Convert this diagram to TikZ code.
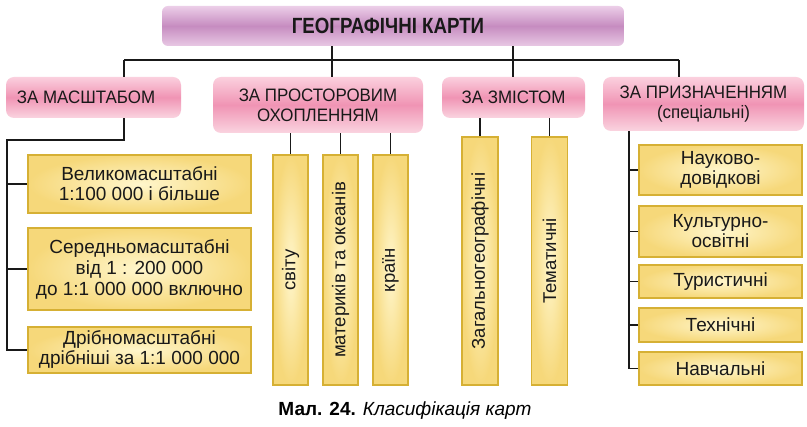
\documentclass[tikz,border=0pt]{standalone}
\usepackage{fontspec}
\setmainfont{Liberation Sans}
\newfontfamily\titlefont[FakeStretch=0.85]{Liberation Sans}
\newfontfamily\catfont[FakeStretch=0.94]{Liberation Sans}
\definecolor{ttop}{RGB}{236,206,232}
\definecolor{tmid}{RGB}{198,140,192}
\definecolor{tbot}{RGB}{232,200,228}
\definecolor{ptop}{RGB}{251,208,222}
\definecolor{pmid}{RGB}{240,148,180}
\definecolor{pbot}{RGB}{250,212,224}
\definecolor{yin}{RGB}{255,246,204}
\definecolor{yout}{RGB}{246,216,122}
\definecolor{ybord}{RGB}{214,176,52}
\definecolor{lin}{RGB}{25,25,25}
\begin{document}
\begin{tikzpicture}[x=1pt,y=-1pt,
  titlebox/.style={rounded corners=6pt, top color=ttop, bottom color=tbot, middle color=tmid, inner sep=0pt,
     font=\titlefont\bfseries\fontsize{22}{24}\selectfont, text=black!90},
  catbox/.style={rounded corners=8pt, top color=ptop, bottom color=pbot, middle color=pmid, inner sep=1pt, align=center,
     font=\catfont\fontsize{18}{20}\selectfont, text=black!90},
  itembox/.style={draw=ybord, line width=1.2pt, inner color=yin, outer color=yout, inner sep=1pt, align=center,
     font=\fontsize{19}{20}\selectfont, text=black!90},
  vbox/.style={itembox, font=\fontsize{18.5}{20}\selectfont},
  conn/.style={draw=lin, line width=1.2pt}]
\useasboundingbox (0,0) rectangle (807,427);
\fill[white] (0,0) rectangle (807,427);

\node[titlebox, minimum width=462pt, minimum height=40pt] (title) at (393,26) {ГЕОГРАФІЧНІ КАРТИ\hspace*{10pt}};

\node[catbox, minimum width=175pt, minimum height=41pt] (zm) at (93.5,97.5) {ЗА МАСШТАБОМ\hspace*{15pt}};
\node[catbox, minimum width=210pt, minimum height=56pt] (zp) at (318,105) {ЗА ПРОСТОРОВИМ\\ОХОПЛЕННЯМ};
\node[catbox, minimum width=143pt, minimum height=41pt] (zz) at (513.5,97.5) {ЗА ЗМІСТОМ};
\node[catbox, minimum width=201pt, minimum height=54pt] (zn) at (703.5,104) {ЗА ПРИЗНАЧЕННЯМ\\(спеціальні)};

\node[itembox, minimum width=223pt, minimum height=58pt] (l1) at (139.5,184) {Великомасштабні\\1:100 000 і більше};
\node[itembox, minimum width=223pt, minimum height=82pt, font=\fontsize{19}{21}\selectfont] (l2) at (139.5,269) {Середньомасштабні\\від 1 : 200 000\\до 1:1 000 000 включно};
\node[itembox, minimum width=223pt, minimum height=46pt] (l3) at (139.5,350) {Дрібномасштабні\\дрібніші за 1:1 000 000};

\node[vbox, minimum width=35pt, minimum height=230pt] (s1) at (290.5,270) {\rotatebox{90}{світу}};
\node[vbox, minimum width=35pt, minimum height=230pt] (s2) at (340.5,270) {\rotatebox{90}{материків та океанів}};
\node[vbox, minimum width=35pt, minimum height=230pt] (s3) at (390.5,270) {\rotatebox{90}{країн}};

\node[vbox, minimum width=36pt, minimum height=248pt] (z1) at (480,261) {\rotatebox{90}{Загальногеографічні}};
\node[vbox, minimum width=36pt, minimum height=248pt] (z2) at (549.5,261) {\rotatebox{90}{Тематичні}};

\node[itembox, minimum width=163pt, minimum height=50pt] (r1) at (720.5,170) {Науково-\\довідкові};
\node[itembox, minimum width=163pt, minimum height=51pt] (r2) at (720.5,231.5) {Культурно-\\освітні};
\node[itembox, minimum width=163pt, minimum height=33pt] (r3) at (720.5,281.5) {Туристичні};
\node[itembox, minimum width=163pt, minimum height=34pt] (r4) at (720.5,325) {Технічні};
\node[itembox, minimum width=163pt, minimum height=33pt] (r5) at (720.5,368.5) {Навчальні};

\node[font=\fontsize{19}{21}\selectfont, inner sep=0pt] (cap) at (405,411) {\textbf{Мал. 24.} \textit{Класифікація карт}};

% top connectors
\coordinate (ja) at (124,60);
\coordinate (jb) at (332,60);
\coordinate (jc) at (513,60);
\coordinate (jd) at (679,60);
\draw[conn] (ja) -- (jd);
\draw[conn] (title.south -| jb) -- (zp.north -| jb);
\draw[conn] (title.south -| jc) -- (zz.north -| jc);
\draw[conn] (ja) -- (zm.north -| ja);
\draw[conn] (jd) -- (zn.north -| jd);

% left branch
\coordinate (ka) at (124,140);
\coordinate (kb) at (7,140);
\draw[conn] (zm.south -| ka) -- (ka) -- (kb) |- (l3.west);
\draw[conn] (kb |- l1.west) -- (l1.west);
\draw[conn] (kb |- l2.west) -- (l2.west);

% middle
\draw[conn] (zp.south -| s1.north) -- (s1.north);
\draw[conn] (zp.south -| s2.north) -- (s2.north);
\draw[conn] (zp.south -| s3.north) -- (s3.north);
\draw[conn] (zz.south -| z1.north) -- (z1.north);
\draw[conn] (zz.south -| z2.north) -- (z2.north);

% right branch
\coordinate (ra) at (629,140);
\draw[conn] (zn.south -| ra) |- (r5.west);
\draw[conn] (ra |- r1.west) -- (r1.west);
\draw[conn] (ra |- r2.west) -- (r2.west);
\draw[conn] (ra |- r3.west) -- (r3.west);
\draw[conn] (ra |- r4.west) -- (r4.west);
\end{tikzpicture}
\end{document}
